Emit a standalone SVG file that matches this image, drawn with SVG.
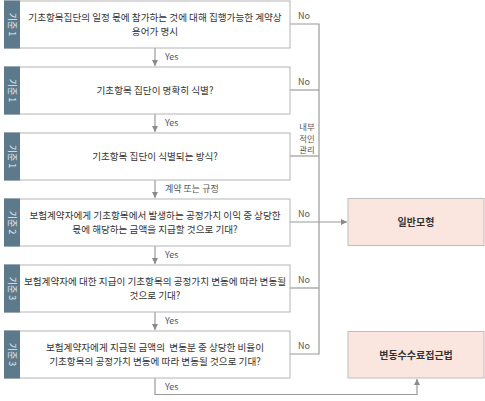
<svg xmlns="http://www.w3.org/2000/svg" width="485" height="401" viewBox="0 0 485 401">
<style>
.box{fill:#fff;stroke:#b4b4b4;stroke-width:1}
.bar{fill:#5d7a8c}
.bt{font-family:"Noto Sans CJK KR","Noto Sans",sans-serif;font-size:9.6px;fill:#333;text-anchor:middle;white-space:pre}
.side{font-family:"Noto Sans CJK KR","Noto Sans",sans-serif;font-size:9px;fill:#e4ecf1;text-anchor:middle}
.lbl{font-family:"Noto Sans CJK KR","Noto Sans",sans-serif;font-size:9px;fill:#555}
.lbs{font-family:"Noto Sans CJK KR","Noto Sans",sans-serif;font-size:8.4px;fill:#555;text-anchor:middle}
.res{fill:#fbe6df;stroke:#bdbdbd;stroke-width:1}
.rt{font-family:"Noto Sans CJK KR","Noto Sans",sans-serif;font-size:10px;font-weight:bold;fill:#333;text-anchor:middle}
.ln{fill:none;stroke:#9a9a9a;stroke-width:1.2}
</style>
<defs>
<marker id="ah" viewBox="0 0 10 10" refX="10" refY="5" markerWidth="5" markerHeight="5" orient="auto">
<path d="M0,0 L10,5 L0,10 z" fill="#8a8a8a"/>
</marker>
</defs>
<g id="connectors">
<path class="ln" d="M155,48 V66" marker-end="url(#ah)"/>
<path class="ln" d="M155,114 V132" marker-end="url(#ah)"/>
<path class="ln" d="M155,180 V198" marker-end="url(#ah)"/>
<path class="ln" d="M155,246 V264" marker-end="url(#ah)"/>
<path class="ln" d="M155,312 V330" marker-end="url(#ah)"/>
<path class="ln" d="M290,24 H319 V354 H290"/>
<path class="ln" d="M290,90 H319"/>
<path class="ln" d="M290,156 H319"/>
<path class="ln" d="M290,288 H319"/>
<path class="ln" d="M290,222 H347" marker-end="url(#ah)"/>
<path class="ln" d="M155,378 V394.5 H417 V379" marker-end="url(#ah)"/>
<text class="lbl" x="165" y="60">Yes</text>
<text class="lbl" x="165" y="126">Yes</text>
<text class="lbl" x="165" y="192">계약 또는 규정</text>
<text class="lbl" x="165" y="258">Yes</text>
<text class="lbl" x="165" y="324">Yes</text>
<text class="lbl" x="165" y="390">Yes</text>
<text class="lbl" x="298" y="19">No</text>
<text class="lbl" x="298" y="85">No</text>
<text class="lbl" x="298" y="217">No</text>
<text class="lbl" x="298" y="283">No</text>
<text class="lbl" x="298" y="349">No</text>
<text class="lbs" x="307" y="130">내부</text>
<text class="lbs" x="307" y="141.5">적인</text>
<text class="lbs" x="307" y="153">관리</text>
</g>
<g id="node1">
<rect class="box" x="4.5" y="1" width="285.5" height="47"/>
<rect class="bar" x="4" y="0.5" width="16" height="48"/>
<text class="side" transform="translate(12,24.5) rotate(90)" y="3">기준 1</text>
<text class="bt" x="155" y="21">기초항목집단의 일정 몫에 참가하는 것에 대해 집행가능한 계약상</text>
<text class="bt" x="155" y="34.5">용어가 명시</text>
</g>
<g id="node2">
<rect class="box" x="4.5" y="67" width="285.5" height="47"/>
<rect class="bar" x="4" y="66.5" width="16" height="48"/>
<text class="side" transform="translate(12,90.5) rotate(90)" y="3">기준 1</text>
<text class="bt" x="155" y="94">기초항목 집단이 명확히 식별?</text>
</g>
<g id="node3">
<rect class="box" x="4.5" y="133" width="285.5" height="47"/>
<rect class="bar" x="4" y="132.5" width="16" height="48"/>
<text class="side" transform="translate(12,156.5) rotate(90)" y="3">기준 1</text>
<text class="bt" x="155" y="160">기초항목 집단이 식별되는 방식?</text>
</g>
<g id="node4">
<rect class="box" x="4.5" y="199" width="285.5" height="47"/>
<rect class="bar" x="4" y="198.5" width="16" height="48"/>
<text class="side" transform="translate(12,222.5) rotate(90)" y="3">기준 2</text>
<text class="bt" x="155" y="219">보험계약자에게 기초항목에서 발생하는 공정가치 이익 중 상당한</text>
<text class="bt" x="155" y="232.5">몫에 해당하는 금액을 지급할 것으로 기대?</text>
</g>
<g id="node5">
<rect class="box" x="4.5" y="265" width="285.5" height="47"/>
<rect class="bar" x="4" y="264.5" width="16" height="48"/>
<text class="side" transform="translate(12,288.5) rotate(90)" y="3">기준 3</text>
<text class="bt" x="155" y="285">보험계약자에 대한 지급이 기초항목의 공정가치 변동에 따라 변동될</text>
<text class="bt" x="155" y="298.5">것으로 기대?</text>
</g>
<g id="node6">
<rect class="box" x="4.5" y="331" width="285.5" height="47"/>
<rect class="bar" x="4" y="330.5" width="16" height="48"/>
<text class="side" transform="translate(12,354.5) rotate(90)" y="3">기준 3</text>
<text class="bt" x="155" y="351">보험계약자에게 지급된 금액의  변동분 중 상당한 비율이</text>
<text class="bt" x="155" y="364.5">기초항목의 공정가치 변동에 따라 변동될 것으로 기대?</text>
</g>
<g id="general">
<rect class="res" x="348" y="198.5" width="136" height="47"/>
<text class="rt" x="416" y="225.5">일반모형</text>
</g>
<g id="vfa">
<rect class="res" x="348" y="331.5" width="136" height="46.5"/>
<text class="rt" x="416" y="358.5">변동수수료접근법</text>
</g>
</svg>
